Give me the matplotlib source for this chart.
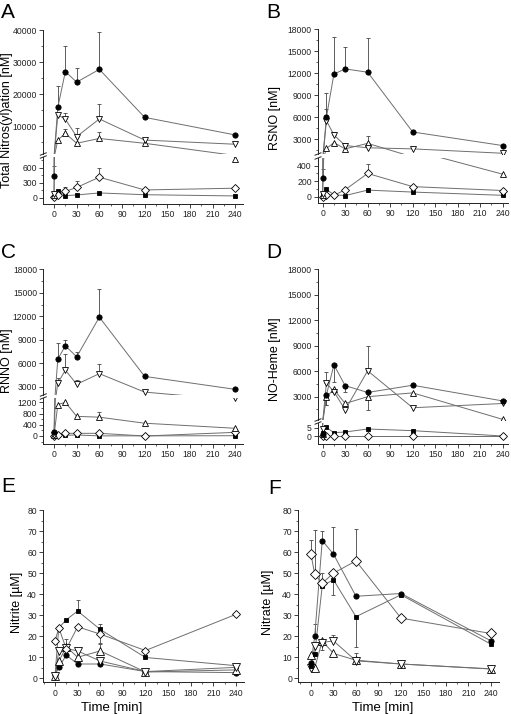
import matplotlib

matplotlib.use("Agg")
import matplotlib.pyplot as plt
import numpy as np
from matplotlib.lines import Line2D
from matplotlib.ticker import MultipleLocator, StrMethodFormatter

plt.rcParams["font.family"] = ["Liberation Sans", "DejaVu Sans"]

TIME = [0, 5, 15, 30, 60, 120, 240]
X_TICKS_MAJOR = 30

# --- A: total nitros(yl)ation [nM] ---
A_CIRC = [430, 15800, 27000, 23700, 27700, 12700, 7200]
A_CIRC_UP = [200, 6700, 8000, 4500, 11800, 0, 0]
A_SQ = [20, 135, 40, 55, 95, 60, 35]
A_DIA = [20, 60, 125, 205, 410, 155, 190]
A_DIA_UP = [0, 0, 85, 120, 175, 0, 0]
A_DTRI = [70, 13500, 12100, 6700, 12200, 5600, 4300]
A_DTRI_UP = [0, 0, 1900, 2600, 4600, 0, 0]
A_UTRI = [50, 5600, 7700, 4600, 6100, 4600, 770]
A_UTRI_UP = [0, 0, 1300, 0, 2000, 0, 0]

# --- B: RSNO [nM] ---
B_CIRC = [240, 6000, 11900, 12600, 12150, 4000, 2150]
B_CIRC_UP = [120, 3300, 5000, 3000, 4650, 0, 0]
B_SQ = [25, 95, 25, 15, 85, 60, 18]
B_SQ_ERR = [0, 0, 0, 0, 25, 0, 0]
B_DIA = [0, 25, 17, 90, 300, 130, 80]
B_DIA_UP = [0, 0, 0, 0, 125, 0, 0]
B_DTRI = [35, 5550, 3600, 2150, 1850, 1700, 1100]
B_DTRI_UP = [0, 1650, 450, 400, 0, 0, 0]
B_UTRI = [20, 1750, 2550, 1700, 2450, 600, 290]
B_UTRI_UP = [0, 0, 0, 0, 1000, 0, 0]

# --- C: RNNO [nM] ---
C_CIRC = [155, 6550, 8250, 6850, 11900, 4350, 2700]
C_CIRC_UP = [0, 2000, 700, 600, 3600, 0, 0]
C_SQ = [10, 30, 25, 35, 5, 5, 10]
C_DIA = [0, 20, 95, 95, 95, 0, 130]
C_DTRI = [50, 3500, 5150, 3350, 4700, 2350, 1340]
C_DTRI_UP = [0, 700, 2000, 600, 1200, 0, 0]
C_UTRI = [20, 1120, 1200, 700, 670, 455, 275]
C_UTRI_UP = [0, 0, 0, 0, 170, 0, 0]

# --- D: NO-Heme [nM] ---
D_CIRC = [1, 3200, 6750, 4300, 3500, 4350, 2500]
D_CIRC_DN = [0, 1200, 2000, 800, 0, 0, 0]
D_SQ = [2, 5.2, 2, 2.4, 4.2, 3.2, 0]
D_DIA = [0, 0, 0, 0, 0, 0, 0]
D_DTRI = [4, 4600, 3600, 1450, 6050, 1700, 2200]
D_DTRI_UP = [0, 1300, 0, 0, 2900, 0, 0]
D_UTRI = [1, 3000, 3850, 2200, 3000, 3450, 330]
D_UTRI_DN = [0, 1000, 0, 0, 1600, 0, 0]

# --- E: nitrite [uM] ---
E_CIRC = [1.5, 5.2, 11, 6.8, 6.8, 3.2, 2.7]
E_SQ = [1.2, 24, 27.8, 32, 23.2, 9.9, 6]
E_SQ_UP = [0, 0, 0, 5, 2.5, 0, 0]
E_DIA = [17.5, 24, 14, 24.5, 21, 13.2, 30.4]
E_DIA_DN = [0, 0, 0, 0, 4, 0, 0]
E_DTRI = [1.1, 13, 14.2, 13, 8.2, 3.2, 5.2]
E_DTRI_UP = [0, 0, 4.5, 1, 0, 0, 0]
E_UTRI = [1, 8, 15, 10, 13, 3, 4]
E_UTRI_UP = [0, 0, 0, 0, 3.5, 0, 0]

# --- F: nitrate [uM] ---
F_CIRC = [7.2, 20, 65.5, 59, 39, 40.3, 17.8]
F_CIRC_UP = [0, 6, 4.5, 13, 0, 0, 0]
F_SQ = [6, 11.5, 44, 46.8, 29.3, 39.7, 16.2]
F_SQ_DN = [0, 0, 0, 7, 14.5, 0, 0]
F_DIA = [59, 49.4, 45.2, 50, 55.8, 28.6, 21.3]
F_DIA_UP = [6.6, 21, 5, 0, 15, 0, 0]
F_DTRI = [5, 15.3, 17, 17.8, 8.3, 6.8, 4.5]
F_DTRI_UP = [0, 0, 0, 3, 3.5, 0, 0]
F_UTRI = [11.2, 5, 17.8, 11.8, 8.6, 6.8, 4.4]
F_UTRI_DN = [0, 0, 4.5, 0, 0, 0, 0]

W, H = 511, 714
LINE_C = "#6e6e6e"
AX_C = "#222222"
TICK_FS = 6.2
MARKERS = {
    "circ": dict(marker="o", ms=3.8, mfc="black"),
    "sq": dict(marker="s", ms=3.5, mfc="black"),
    "dia": dict(marker="D", ms=3.8, mfc="white"),
    "dtri": dict(marker="v", ms=4.8, mfc="white"),
    "utri": dict(marker="^", ms=4.8, mfc="white"),
}

fig = plt.figure(figsize=(W / 100, H / 100), dpi=100)


def add_ax(x0, y0, x1, y1):
    return fig.add_axes([x0 / W, 1 - y1 / H, (x1 - x0) / W, (y1 - y0) / H])


def draw_series(ax, y, kind, up=None, dn=None, scale=1.0):
    t = np.array(TIME, float)
    y = np.array(y, float)
    lo, hi = ax.get_ylim()
    inside = (y >= lo) & (y <= hi)
    ax.plot(t, y, color=LINE_C, lw=0.7, zorder=2)
    if up is not None or dn is not None:
        u = np.array(up if up is not None else [0] * len(t), float)
        d = np.array(dn if dn is not None else [0] * len(t), float)
        m = ((u > 0) | (d > 0)) & inside
        if m.any():
            ax.errorbar(t[m], y[m], yerr=[d[m], u[m]], fmt="none", ecolor="#444444",
                        elinewidth=0.6, capsize=1.6, capthick=0.6, zorder=1)
    style = dict(MARKERS[kind])
    if style["mfc"] == "white":
        style["ms"] = style["ms"] * scale
    ax.plot(t[inside], y[inside], linestyle="none", mec="black", mew=0.6, zorder=3, **style)


def style_ax(ax, xlim, ylim, ymaj, ymin, bottom=True):
    ax.set_xlim(*xlim)
    ax.set_ylim(*ylim)
    ax.patch.set_alpha(0)
    for s in ("top", "right"):
        ax.spines[s].set_visible(False)
    for s in ("left", "bottom"):
        ax.spines[s].set_color(AX_C)
        ax.spines[s].set_linewidth(0.7)
    ax.yaxis.set_major_locator(MultipleLocator(ymaj))
    ax.yaxis.set_minor_locator(MultipleLocator(ymin))
    ax.yaxis.set_major_formatter(StrMethodFormatter("{x:.0f}"))
    ax.xaxis.set_major_locator(MultipleLocator(X_TICKS_MAJOR))
    ax.xaxis.set_minor_locator(MultipleLocator(X_TICKS_MAJOR / 2))
    ax.tick_params(which="major", direction="out", length=3, width=0.6,
                   labelsize=TICK_FS, colors=AX_C, pad=1.5)
    ax.tick_params(which="minor", direction="out", length=1.6, width=0.5, colors=AX_C)
    if not bottom:
        ax.spines["bottom"].set_visible(False)
        ax.tick_params(axis="x", which="both", bottom=False, labelbottom=False)


def break_marks(x, yb, yt):
    for yy in (yb, yt):
        fig.add_artist(Line2D([(x - 3) / W, (x + 3) / W],
                              [1 - (yy + 1.2) / H, 1 - (yy - 1.2) / H],
                              color=AX_C, lw=0.7))


def draw_all(ax, series, scale=1.0):
    for y, kind, up, dn in series:
        draw_series(ax, y, kind, up, dn, scale)


def broken_panel(box_x, xlim, up_y, up_lim, up_tk, lo_y, lo_lim, lo_tk, series):
    ax_u = add_ax(box_x[0], up_y[0], box_x[1], up_y[1])
    ax_l = add_ax(box_x[0], lo_y[0], box_x[1], lo_y[1])
    style_ax(ax_u, xlim, up_lim, up_tk[0], up_tk[1], bottom=False)
    style_ax(ax_l, xlim, lo_lim, lo_tk[0], lo_tk[1])
    draw_all(ax_u, series)
    draw_all(ax_l, series)
    break_marks(box_x[0], up_y[1], lo_y[0])
    return ax_u, ax_l


# A
broken_panel((43.3, 243), (-14.2, 250.2), (30, 154), (1250, 40000), (10000, 5000),
             (157, 204), (-126, 814), (300, 150),
             [(A_SQ, "sq", None, None), (A_DIA, "dia", A_DIA_UP, None),
              (A_UTRI, "utri", A_UTRI_UP, None), (A_DTRI, "dtri", A_DTRI_UP, None),
              (A_CIRC, "circ", A_CIRC_UP, None)])
# B
broken_panel((318, 508), (-6.2, 247), (29.3, 154), (1000, 18000), (3000, 1500),
             (158, 203), (-81, 499), (200, 100),
             [(B_SQ, "sq", B_SQ_ERR, B_SQ_ERR), (B_DIA, "dia", B_DIA_UP, None),
              (B_UTRI, "utri", B_UTRI_UP, None), (B_DTRI, "dtri", B_DTRI_UP, None),
              (B_CIRC, "circ", B_CIRC_UP, None)])
# C
broken_panel((43.3, 243), (-14.2, 250.2), (269.3, 395), (1980, 18000), (3000, 1500),
             (398, 444), (-285, 1353), (400, 200),
             [(C_SQ, "sq", None, None), (C_DIA, "dia", None, None),
              (C_UTRI, "utri", C_UTRI_UP, None), (C_DTRI, "dtri", C_DTRI_UP, None),
              (C_CIRC, "circ", C_CIRC_UP, None)])
# D
broken_panel((318, 508), (-6.2, 247), (269.3, 420), (257, 18000), (3000, 1500),
             (423, 444), (-4.8, 7.8), (5, 5),
             [(D_SQ, "sq", None, None), (D_DIA, "dia", None, None),
              (D_UTRI, "utri", None, D_UTRI_DN), (D_DTRI, "dtri", D_DTRI_UP, None),
              (D_CIRC, "circ", None, D_CIRC_DN)])

# E
ax_e = add_ax(43.3, 510, 243.5, 682.3)
style_ax(ax_e, (-15.5, 250), (-1.9, 80), 10, 5)
draw_all(ax_e, [(E_CIRC, "circ", None, None), (E_SQ, "sq", E_SQ_UP, None),
                (E_UTRI, "utri", E_UTRI_UP, None), (E_DTRI, "dtri", E_DTRI_UP, None),
                (E_DIA, "dia", None, E_DIA_DN)], scale=1.2)
# F
ax_f = add_ax(298.3, 510, 498.5, 682.3)
style_ax(ax_f, (-16.9, 250), (-1.9, 80), 10, 5)
draw_all(ax_f, [(F_UTRI, "utri", None, F_UTRI_DN), (F_DTRI, "dtri", F_DTRI_UP, None),
                (F_SQ, "sq", None, F_SQ_DN), (F_CIRC, "circ", F_CIRC_UP, None),
                (F_DIA, "dia", F_DIA_UP, None)], scale=1.3)


# labels
def ftext(x, y, s, **kw):
    fig.text(x / W, 1 - y / H, s, color="black", **kw)


for letter, (lx, ly) in zip("ABCDEF", [(1, 3), (266, 3), (1, 243), (266, 243), (1, 477), (268, 479)]):
    ftext(lx, ly, letter, fontsize=15, va="top", ha="left")

YLAB_FS = 9
ftext(7, 120, "Total Nitros(yl)ation [nM]", fontsize=YLAB_FS, rotation=90, ha="center", va="center")
ftext(275, 118, "RSNO [nM]", fontsize=YLAB_FS, rotation=90, ha="center", va="center")
ftext(7, 361, "RNNO [nM]", fontsize=YLAB_FS, rotation=90, ha="center", va="center")
ftext(275, 359, "NO-Heme [nM]", fontsize=YLAB_FS, rotation=90, ha="center", va="center")
ftext(17, 602, "Nitrite [\u00b5M]", fontsize=YLAB_FS, rotation=90, ha="center", va="center")
ftext(268, 602, "Nitrate [\u00b5M]", fontsize=YLAB_FS, rotation=90, ha="center", va="center")
ftext(112, 708, "Time [min]", fontsize=9.5, ha="center", va="center")
ftext(383, 708, "Time [min]", fontsize=9.5, ha="center", va="center")

fig.savefig("out.png", dpi=100)
plt.close(fig)
